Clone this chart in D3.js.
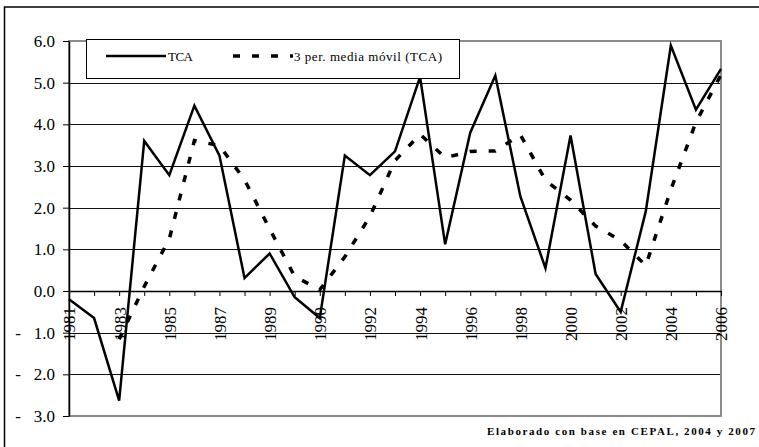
<!DOCTYPE html>
<html>
<head>
<meta charset="utf-8">
<script src="https://cdn.jsdelivr.net/npm/d3@7/dist/d3.min.js"></script>
<style>
  html, body { margin: 0; padding: 0; background: #fff; }
  svg { display: block; }
</style>
</head>
<body>
<svg id="chart" width="759" height="447"></svg>
<script>
// Category labels (one per point; only every other one is printed on the axis)
const categories = [
  "1981", "1982", "1983", "1984", "1985", "1986", "1987", "1988", "1989",
  "1990", "1990", "1991", "1992", "1993", "1994", "1995", "1996", "1997",
  "1998", "1999", "2000", "2001", "2002", "2003", "2004", "2005", "2006"
];

// TCA series
const tca = [
  -0.20, -0.65, -2.63, 3.60, 2.78, 4.45, 3.25, 0.31, 0.90,
  -0.15, -0.65, 3.25, 2.78, 3.35, 5.14, 1.12, 3.80, 5.17,
  2.27, 0.55, 3.73, 0.41, -0.50, 1.91, 5.89, 4.35, 5.33
];

// 3-period moving average of TCA (starts at the third point)
const tcaMovingAvg = [
  null, null, -1.16, 0.11, 1.25, 3.61, 3.49, 2.67, 1.49,
  0.35, 0.03, 0.82, 1.79, 3.13, 3.76, 3.20, 3.35, 3.36,
  3.75, 2.66, 2.18, 1.56, 1.21, 0.61, 2.43, 4.05, 5.19
];

// Value axis ticks
const yTicks = [-3, -2, -1, 0, 1, 2, 3, 4, 5, 6];

const legendLabels = ["TCA", "3 per. media móvil (TCA)"];
const sourceNote = "Elaborado con base en CEPAL, 2004 y 2007";

const SERIF = '"Liberation Serif", "Times New Roman", serif';

const svg = d3.select("#chart");
const plot = { left: 69, right: 721, top: 41, bottom: 416 };

const x = d3.scalePoint()
  .domain(d3.range(categories.length))
  .range([plot.left, plot.right]);

const y = d3.scaleLinear()
  .domain([d3.min(yTicks), d3.max(yTicks)])
  .range([plot.bottom, plot.top]);

// Outer frame (left and top edges)
svg.append("path")
  .attr("d", `M4.5,447 V7 H759`)
  .attr("fill", "none")
  .attr("stroke", "#000")
  .attr("stroke-width", 1.5);

// Horizontal gridlines
svg.append("g")
  .selectAll("line")
  .data(yTicks.filter(v => v !== d3.min(yTicks) && v !== d3.max(yTicks) && v !== 0))
  .join("line")
  .attr("x1", plot.left).attr("x2", plot.right)
  .attr("y1", d => Math.round(y(d)) + 0.5)
  .attr("y2", d => Math.round(y(d)) + 0.5)
  .attr("stroke", "#111")
  .attr("stroke-width", 1);

// Plot-area border
svg.append("rect")
  .attr("x", plot.left).attr("y", plot.top)
  .attr("width", plot.right - plot.left)
  .attr("height", plot.bottom - plot.top)
  .attr("fill", "none")
  .attr("stroke", "#8c8c8c")
  .attr("stroke-width", 2);

// Value axis
const fmt = d3.format(".1f");
const yAxis = svg.append("g")
  .attr("transform", `translate(${plot.left},0)`)
  .call(d3.axisLeft(y)
    .tickValues(yTicks)
    .tickSize(6)
    .tickSizeOuter(0)
    .tickPadding(8)
    .tickFormat(d => fmt(Math.abs(d))));
yAxis.select(".domain").attr("stroke", "#000").attr("stroke-width", 1.5);
yAxis.selectAll(".tick line").attr("stroke", "#000").attr("stroke-width", 1);
yAxis.selectAll(".tick text")
  .style("font-family", SERIF)
  .style("font-size", "17px")
  .attr("fill", "#000");
yAxis.selectAll(".tick").filter(d => d < 0)
  .append("text")
  .attr("x", -51)
  .attr("dy", "0.32em")
  .attr("text-anchor", "middle")
  .style("font-family", SERIF)
  .style("font-size", "17px")
  .attr("fill", "#000")
  .text("-");

// Category axis along zero
const xAxis = svg.append("g")
  .attr("transform", `translate(0,${y(0)})`)
  .call(d3.axisBottom(x)
    .tickSize(5)
    .tickSizeOuter(0)
    .tickFormat(i => (i % 2 === 0 ? categories[i] : "")));
xAxis.select(".domain").attr("stroke", "#000").attr("stroke-width", 1.5);
xAxis.selectAll(".tick line").attr("stroke", "#000").attr("stroke-width", 1);
xAxis.selectAll(".tick text")
  .attr("transform", "rotate(-90)")
  .attr("text-anchor", "end")
  .attr("x", -16)
  .attr("y", 0)
  .attr("dy", "0.35em")
  .style("font-family", SERIF)
  .style("font-size", "17px")
  .attr("fill", "#000");

// Series lines
const line = d3.line()
  .defined(d => d != null)
  .x((d, i) => x(i))
  .y(d => y(d));

svg.append("path")
  .datum(tcaMovingAvg)
  .attr("d", line)
  .attr("fill", "none")
  .attr("stroke", "#000")
  .attr("stroke-width", 3.5)
  .attr("stroke-dasharray", "7,12");

svg.append("path")
  .datum(tca)
  .attr("d", line)
  .attr("fill", "none")
  .attr("stroke", "#000")
  .attr("stroke-width", 2.5)
  .attr("stroke-linejoin", "miter");

// Legend
const legend = svg.append("g");
legend.append("rect")
  .attr("x", 86.5).attr("y", 39.5)
  .attr("width", 373).attr("height", 39)
  .attr("fill", "#fff")
  .attr("stroke", "#000")
  .attr("stroke-width", 1);
legend.append("line")
  .attr("x1", 106).attr("x2", 166)
  .attr("y1", 56).attr("y2", 56)
  .attr("stroke", "#000").attr("stroke-width", 2.5);
legend.append("text")
  .attr("x", 168).attr("y", 60.5)
  .style("font-family", SERIF)
  .style("font-size", "13px")
  .attr("textLength", 25)
  .text(legendLabels[0]);
legend.append("line")
  .attr("x1", 233).attr("x2", 293)
  .attr("y1", 56).attr("y2", 56)
  .attr("stroke", "#000").attr("stroke-width", 3.5)
  .attr("stroke-dasharray", "7,12");
legend.append("text")
  .attr("x", 294).attr("y", 60.5)
  .style("font-family", SERIF)
  .style("font-size", "13px")
  .attr("textLength", 148)
  .attr("lengthAdjust", "spacing")
  .text(legendLabels[1]);

// Source note
svg.append("text")
  .attr("x", 487).attr("y", 435)
  .style("font-family", SERIF)
  .style("font-size", "11px")
  .style("font-weight", "bold")
  .attr("textLength", 268)
  .attr("lengthAdjust", "spacing")
  .text(sourceNote);
</script>
</body>
</html>
